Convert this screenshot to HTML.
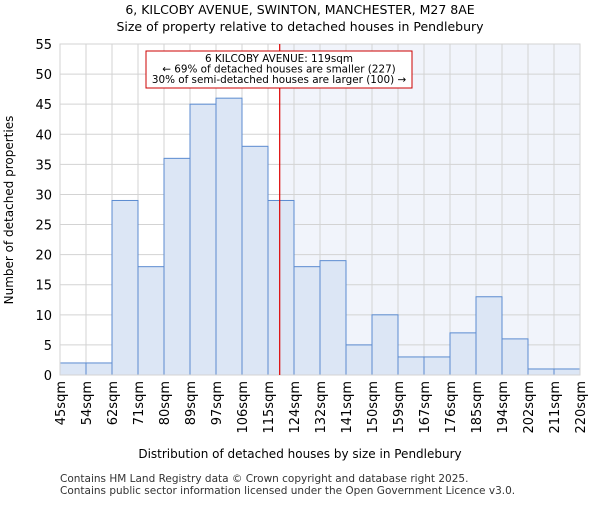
<!DOCTYPE html>
<html><head><meta charset="utf-8"><style>body{margin:0;background:#fff}svg{font-family:"DejaVu Sans","Liberation Sans",sans-serif}</style></head>
<body>
<svg id="chart" width="600" height="500">
<text x="300" y="14" text-anchor="middle" font-size="12.5">6, KILCOBY AVENUE, SWINTON, MANCHESTER, M27 8AE</text>
<text x="300" y="31" text-anchor="middle" font-size="12.5">Size of property relative to detached houses in Pendlebury</text>
<g id="plot"></g>
<text x="300" y="458" text-anchor="middle" font-size="12">Distribution of detached houses by size in Pendlebury</text>
<text transform="translate(13,210) rotate(-90)" text-anchor="middle" font-size="12">Number of detached properties</text>
<text x="60" y="482" font-size="10.5" fill="#333">Contains HM Land Registry data © Crown copyright and database right 2025.</text>
<text x="60" y="494" font-size="10.5" fill="#333">Contains public sector information licensed under the Open Government Licence v3.0.</text>
</svg>
<script>
const binLabels=["45sqm","54sqm","62sqm","71sqm","80sqm","89sqm","97sqm","106sqm","115sqm","124sqm","132sqm","141sqm","150sqm","159sqm","167sqm","176sqm","185sqm","194sqm","202sqm","211sqm","220sqm"];
const counts=[2,2,29,18,36,45,46,38,29,18,19,5,10,3,3,7,13,6,1,1];
const yTicks=[0,5,10,15,20,25,30,35,40,45,50,55];
const markerBin=8.45;
const L=60,R=580,T=44,B=375,yMax=55;
const n=counts.length,bw=(R-L)/n;
const xs=i=>L+i*bw, ys=v=>B-(v/yMax)*(B-T);
const g=document.getElementById('plot');const NS='http://www.w3.org/2000/svg';
function mk(t,a){const e=document.createElementNS(NS,t);for(const k in a)e.setAttribute(k,a[k]);g.appendChild(e);return e;}
const mx=xs(markerBin);
let e=mk('rect',{x:mx,y:T,width:R-mx,height:B-T,fill:'#f1f4fb'});


for(const t of yTicks){e=mk('line',{x1:L,x2:R,y1:ys(t),y2:ys(t),stroke:'#d3d3d3'});


e=mk('text',{x:L-8,y:ys(t)+5,'text-anchor':'end','font-size':13});e.textContent=t;

}
for(let i=0;i<=n;i++){e=mk('line',{x1:xs(i),x2:xs(i),y1:T,y2:B,stroke:'#d3d3d3'});


e=mk('text',{transform:`translate(${xs(i)+5},${B+6}) rotate(-90)`,'text-anchor':'end','font-size':13});e.textContent=binLabels[i];

}
counts.forEach((c,i)=>{e=mk('rect',{x:xs(i),y:ys(c),width:bw,height:B-ys(c),fill:'#dce6f5',stroke:'#5b8bd0','stroke-width':1});

});
e=mk('rect',{x:L,y:T,width:R-L,height:B-T,fill:'none',stroke:'#d3d3d3'});


e=mk('line',{x1:mx,x2:mx,y1:T,y2:B,stroke:'#dd0000','stroke-width':1.2});


e=mk('rect',{x:146,y:51,width:266,height:37,fill:'#fff',stroke:'#cc0000'});


["6 KILCOBY AVENUE: 119sqm","← 69% of detached houses are smaller (227)","30% of semi-detached houses are larger (100) →"].forEach((s,k)=>{
e=mk('text',{x:279,y:62+k*10.5,'text-anchor':'middle','font-size':10.4});e.textContent=s;

});
</script>
</body></html>
